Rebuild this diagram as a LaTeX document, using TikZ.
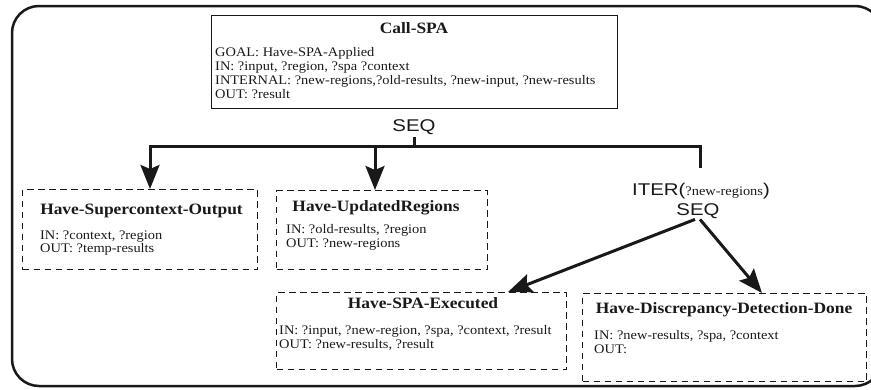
\documentclass[tikz,border=0pt]{standalone}
\usepackage{fontspec}
\setmainfont{Liberation Serif}[FakeStretch=1.1]
\newfontfamily\seqfont{Liberation Sans}[FakeStretch=1.2]
\usetikzlibrary{arrows.meta}
\begin{document}
\begin{tikzpicture}[x=1pt,y=-1pt,
  ink/.style={black!90},
  plan/.style={draw, ink, line width=1.2pt, inner sep=0pt, anchor=north west},
  task/.style={plan, dash pattern=on 6.5pt off 4.5pt},
  ttl/.style={ink, inner sep=0pt, anchor=base, font=\bfseries\fontsize{15.8}{17}\selectfont},
  body/.style={ink, inner sep=0pt, anchor=base west, font=\fontsize{13.1}{14}\selectfont},
  ctl/.style={ink, inner sep=0pt, anchor=base, font=\seqfont\fontsize{17}{19}\selectfont},
  wire/.style={ink, line width=3pt, line join=miter},
  arrow/.style={wire, -{Stealth[length=24pt,width=19pt,inset=4pt]}}]
\useasboundingbox (0,0) rectangle (871,389);

% outer frame
\draw[ink, line width=2.5pt, rounded corners=27pt] (12,6) rectangle (882,386);

% parent plan
\node[plan, minimum width=406pt, minimum height=93pt] (call) at (211,15) {};
\node[ttl] (callT) at (414,33) {Call-SPA};
\node[body] (callG) at (215,56) {GOAL: Have-SPA-Applied};
\node[body] (callI) at (215,70.2) {IN: ?input, ?region, ?spa ?context};
\node[body] (callN) at (215,84.4) {INTERNAL: ?new-regions,?old-results, ?new-input, ?new-results};
\node[body] (callO) at (215,98.6) {OUT: ?result};

% control labels
\node[ctl] (seq1) at (414,131) {SEQ};
\node[ctl] (iter) at (701,195) {ITER({\rmfamily\fontsize{13.1}{14}\selectfont ?new-regions})};
\node[ctl] (seq2) at (698,215) {SEQ};

% subtasks
\node[task, minimum width=235pt, minimum height=80pt] (b1) at (22,189) {};
\node[ttl] (b1T) at (141.5,214) {Have-Supercontext-Output};
\node[body] (b1I) at (40,239) {IN: ?context, ?region};
\node[body] (b1O) at (40,252) {OUT: ?temp-results};

\node[task, minimum width=211pt, minimum height=79pt] (b2) at (276,190) {};
\node[ttl] (b2T) at (376,211) {Have-UpdatedRegions};
\node[body] (b2I) at (286,233) {IN: ?old-results, ?region};
\node[body] (b2O) at (286,247) {OUT: ?new-regions};

\node[task, minimum width=290pt, minimum height=77pt] (b3) at (276,292) {};
\node[ttl] (b3T) at (423,308) {Have-SPA-Executed};
\node[body] (b3I) at (279,334) {IN: ?input, ?new-region, ?spa, ?context, ?result};
\node[body] (b3O) at (279,348) {OUT: ?new-results, ?result};

\node[task, minimum width=284pt, minimum height=88pt] (b4) at (582,293) {};
\node[ttl] (b4T) at (724,313) {Have-Discrepancy-Detection-Done};
\node[body] (b4I) at (594,339) {IN: ?new-results, ?spa, ?context};
\node[body] (b4O) at (594,353) {OUT:};

% connectors
\coordinate (busL) at (150,146);
\coordinate (busM) at (375,146);
\coordinate (busR) at (700,146);
\coordinate (t3) at (508,292);
\coordinate (t4) at (762,293);
\draw[wire] ([yshift=-3pt]seq1.south) -- (seq1.south |- busL);
\draw[wire, line cap=rect] (busL) -- (busR) -- ([yshift=16pt]iter.north -| busR);
\draw[arrow] (busL) -- (busL |- b1.north);
\draw[arrow] (busM) -- (busM |- b2.north);
\draw[arrow] ([xshift=-3pt,yshift=-1pt]seq2.south) -- (t3);
\draw[arrow] ([xshift=2pt,yshift=-1pt]seq2.south) -- (t4);
\end{tikzpicture}
\end{document}
